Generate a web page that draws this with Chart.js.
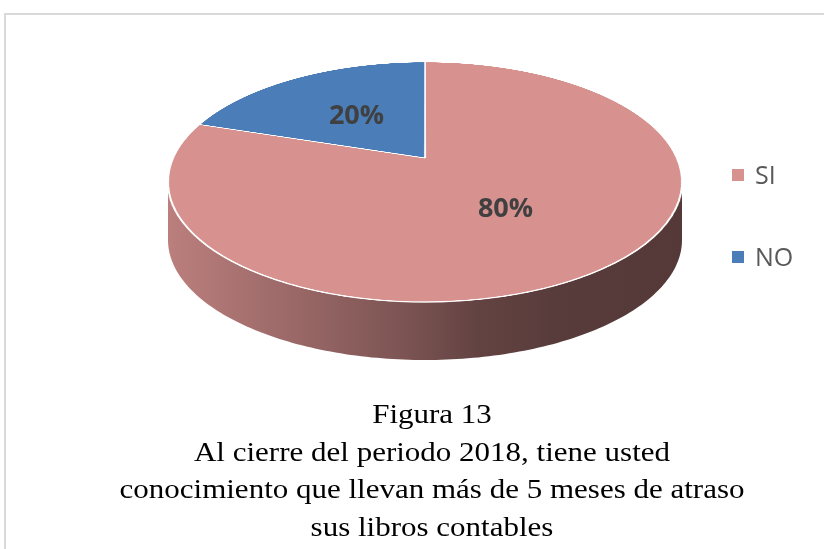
<!DOCTYPE html>
<html>
<head>
<meta charset="utf-8">
<script src="https://cdn.jsdelivr.net/npm/chart.js@4.4.1/dist/chart.umd.min.js"></script>
<style>
html, body { margin: 0; padding: 0; background: #ffffff; }
#wrap { position: relative; width: 824px; height: 549px; }
canvas { display: block; }
</style>
</head>
<body>
<div id="wrap"><canvas id="c" width="824" height="549"></canvas></div>
<script>
// ---- data ----
const categories = ['SI', 'NO'];
const percentages = [80, 20];
const sliceColors = ['#D79290', '#4B7EB9'];
const titleLines = [
  'Figura 13',
  'Al cierre del periodo 2018, tiene usted',
  'conocimiento que llevan más de 5 meses de atraso',
  'sus libros contables'
];

// ---- 3D look (style only) ----
const GEO = { cx: 425, cy: 182, rx: 257, ry: 120, t: -0.2, depth: 58 };
const shadeStops = [[0, 0.87], [0.3, 0.68], [0.45, 0.58], [0.6, 0.46], [0.75, 0.41], [1, 0.39]];
const SRC_R = 400, SRC_M = 6, SRC_S = 2 * (SRC_R + SRC_M);

function project(u, v) {
  const t = GEO.t, d = 1 + t * v;
  return { x: GEO.cx + GEO.rx * u * Math.sqrt(1 - t * t) / d, y: GEO.cy + GEO.ry * (v + t) / d };
}
function hexToRgb(h) {
  h = h.replace('#', '');
  return [0, 2, 4].map(i => parseInt(h.substr(i, 2), 16));
}

const off = document.createElement('canvas');
off.width = SRC_S; off.height = SRC_S;

const pie3d = {
  id: 'pie3d',
  beforeDraw(chart) {
    const ctx = chart.ctx;
    ctx.save();
    ctx.fillStyle = '#D9D9D9';
    ctx.fillRect(4, 13, 820, 2);
    ctx.fillRect(4, 13, 2, 536);
    ctx.restore();
  },
  beforeDatasetsDraw(chart) {
    const ctx = chart.ctx;
    const meta = chart.getDatasetMeta(0);
    // side walls
    const a0 = Math.asin(-GEO.t), a1 = Math.PI - a0, twoPi = 2 * Math.PI;
    meta.data.forEach(el => {
      const col = hexToRgb(el.options.backgroundColor);
      let s = el.startAngle, e = el.endAngle;
      const shift = Math.floor(s / twoPi) * twoPi; s -= shift; e -= shift;
      [0, twoPi].forEach(base => {
        const lo = Math.max(s, a0 + base), hi = Math.min(e, a1 + base);
        if (hi <= lo) return;
        const n = 160, top = [];
        for (let k = 0; k <= n; k++) {
          const a = lo + (hi - lo) * k / n;
          top.push(project(Math.cos(a), Math.sin(a)));
        }
        const grad = ctx.createLinearGradient(GEO.cx - GEO.rx, 0, GEO.cx + GEO.rx, 0);
        shadeStops.forEach(([p, f]) => grad.addColorStop(p, 'rgb(' + col.map(c => Math.round(c * f)).join(',') + ')'));
        ctx.beginPath();
        top.forEach((p, k) => k ? ctx.lineTo(p.x, p.y) : ctx.moveTo(p.x, p.y));
        for (let k = n; k >= 0; k--) ctx.lineTo(top[k].x, top[k].y + GEO.depth);
        ctx.closePath();
        ctx.fillStyle = grad;
        ctx.fill();
      });
    });
    // flat top face drawn by the library's arc elements, then projected
    const octx = off.getContext('2d');
    octx.clearRect(0, 0, SRC_S, SRC_S);
    meta.data.forEach(el => {
      octx.save();
      const k = SRC_R / el.outerRadius;
      octx.translate(SRC_S / 2, SRC_S / 2);
      octx.scale(k, k);
      octx.translate(-el.x, -el.y);
      el.draw(octx);
      octx.restore();
    });
    const t = GEO.t;
    const y0 = Math.floor(GEO.cy - GEO.ry * 1.04), y1 = Math.ceil(GEO.cy + GEO.ry * 1.04);
    for (let Y = y0; Y < y1; Y++) {
      const vpT = (Y - GEO.cy) / GEO.ry, vpB = (Y + 1 - GEO.cy) / GEO.ry;
      const vT = (vpT - t) / (1 - t * vpT), vB = (vpB - t) / (1 - t * vpB);
      const vM = (vT + vB) / 2;
      let sy0 = SRC_S / 2 + vT * SRC_R, sy1 = SRC_S / 2 + vB * SRC_R;
      if (sy1 <= 0 || sy0 >= SRC_S) continue;
      sy0 = Math.max(0, sy0); sy1 = Math.min(SRC_S, sy1);
      if (sy1 - sy0 <= 0) continue;
      const sc = GEO.rx * Math.sqrt(1 - t * t) / (1 + t * vM) / SRC_R;
      ctx.drawImage(off, 0, sy0, SRC_S, sy1 - sy0, GEO.cx - (SRC_S / 2) * sc, Y, SRC_S * sc, 1);
    }
    return false;
  },
  afterDraw(chart) {
    const ctx = chart.ctx;
    const meta = chart.getDatasetMeta(0);
    const data = chart.data.datasets[0].data;
    const total = data.reduce((a, b) => a + b, 0);
    // data labels
    ctx.save();
    ctx.font = 'bold 27px "Open Sans"';
    ctx.fillStyle = '#404040';
    ctx.textAlign = 'center';
    ctx.textBaseline = 'middle';
    meta.data.forEach((el, i) => {
      const a = (el.startAngle + el.endAngle) / 2;
      const p = project(0.5 * Math.cos(a), 0.5 * Math.sin(a));
      ctx.fillText(Math.round(data[i] / total * 100) + '%', p.x, p.y + 1);
    });
    ctx.restore();
    // legend
    ctx.save();
    ctx.font = '25px "Open Sans"';
    ctx.textAlign = 'left';
    ctx.textBaseline = 'alphabetic';
    chart.data.labels.forEach((lab, i) => {
      const top = 169 + i * 82;
      ctx.fillStyle = chart.data.datasets[0].backgroundColor[i];
      ctx.fillRect(732, top, 12, 12);
      ctx.fillStyle = '#595959';
      ctx.fillText(lab, 755, top + 14.5);
    });
    ctx.restore();
    // caption
    ctx.save();
    ctx.font = '31px "Liberation Serif"';
    ctx.fillStyle = '#000000';
    ctx.textAlign = 'center';
    ctx.textBaseline = 'alphabetic';
    titleLines.forEach((line, i) => {
      ctx.save();
      ctx.translate(432, 423 + i * 37.7);
      ctx.scale(1, 0.9);
      ctx.fillText(line, 0, 0);
      ctx.restore();
    });
    ctx.restore();
  }
};

new Chart(document.getElementById('c'), {
  type: 'pie',
  data: {
    labels: categories,
    datasets: [{
      data: percentages,
      backgroundColor: sliceColors,
      borderColor: '#ffffff',
      borderWidth: 2
    }]
  },
  options: {
    responsive: false,
    animation: false,
    layout: { padding: 0 },
    plugins: { legend: { display: false }, tooltip: { enabled: false }, title: { display: false } }
  },
  plugins: [pie3d]
});
</script>
</body>
</html>
